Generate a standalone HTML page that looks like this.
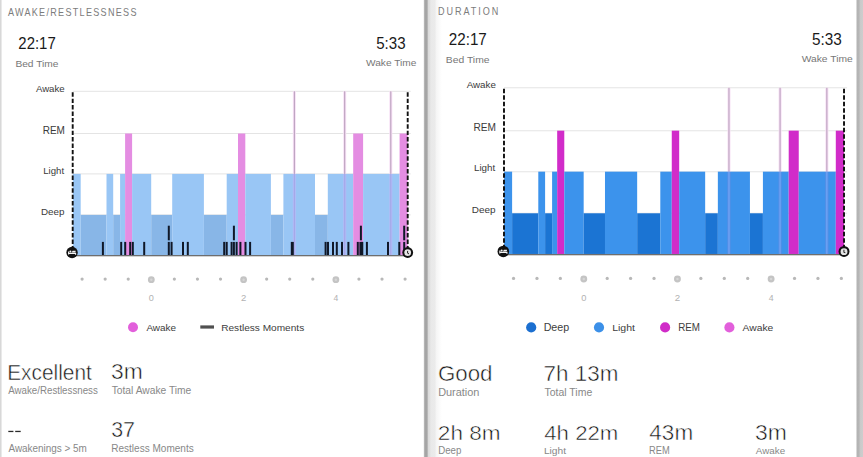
<!DOCTYPE html>
<html><head><meta charset="utf-8"><style>
html,body{margin:0;padding:0;background:#fff;width:863px;height:457px;overflow:hidden;}
svg{position:absolute;left:0;top:0;}
#sep{position:absolute;left:422.5px;top:0;width:19px;height:457px;background:linear-gradient(to right,#fff 0px,#ececec 0.9px,#b4b4b4 1.5px,#a5a5a5 1.9px,#a5a5a5 4.2px,#d6d6d6 5px,#dcdcdc 5.6px,#e0e0e0 7px,#e9e9e9 7.8px,#ebebeb 12px,#f5f5f5 13.2px,#fafafa 16px,#fff 19px);}
#ledge{position:absolute;left:0;top:0;width:2px;height:457px;background:linear-gradient(to right,#d8d8d8 1px,#e9e9e9 1px,#e9e9e9 2px);}
#redge{position:absolute;left:855.8px;top:0;width:7.2px;height:457px;background:linear-gradient(to right,#f4f4f4 0px,#c8c8c8 0.8px,#b4b4b4 1.4px,#b6b6b6 3px,#c9c9c9 4.2px,#cecece 7.2px);}
</style></head><body>
<div id="ledge"></div>
<div id="sep"></div>
<div id="redge"></div>
<svg width="863" height="457" viewBox="0 0 863 457">
<text transform="translate(7.90,15.50) scale(0.86,1)" font-size="10.55" letter-spacing="1.504" fill="#7c7c7c" font-family="Liberation Sans, sans-serif">AWAKE/RESTLESSNESS</text>
<text transform="translate(18.35,48.80) scale(0.9266,1)" font-size="16.14" fill="#1a1a1a" font-family="Liberation Sans, sans-serif">22:17</text>
<text transform="translate(15.38,66.60) scale(1.0945,1)" font-size="9.32" fill="#777" font-family="Liberation Sans, sans-serif">Bed Time</text>
<text transform="translate(376.20,48.90) scale(0.9527,1)" font-size="15.86" fill="#1a1a1a" font-family="Liberation Sans, sans-serif">5:33</text>
<text transform="translate(366.00,66.10) scale(1.1752,1)" font-size="8.63" fill="#777" font-family="Liberation Sans, sans-serif">Wake Time</text>
<text transform="translate(35.90,91.50) scale(1.0525,1)" font-size="9.18" fill="#3a3a3a" font-family="Liberation Sans, sans-serif">Awake</text>
<text transform="translate(42.70,133.60) scale(0.9583,1)" font-size="10.43" fill="#3a3a3a" font-family="Liberation Sans, sans-serif">REM</text>
<text transform="translate(43.13,173.50) scale(1.0224,1)" font-size="9.45" fill="#3a3a3a" font-family="Liberation Sans, sans-serif">Light</text>
<text transform="translate(40.91,214.90) scale(1.0759,1)" font-size="9.13" fill="#3a3a3a" font-family="Liberation Sans, sans-serif">Deep</text>
<line x1="72.7" x2="410.7" y1="91.3" y2="91.3" stroke="#e4e4e4" stroke-width="1"/>
<line x1="72.7" x2="410.7" y1="133.5" y2="133.5" stroke="#e4e4e4" stroke-width="1"/>
<line x1="72.7" x2="410.7" y1="173.9" y2="173.9" stroke="#e4e4e4" stroke-width="1"/>
<line x1="72.7" x2="410.7" y1="214.9" y2="214.9" stroke="#e4e4e4" stroke-width="1"/>
<rect x="72.8" y="173.9" width="7.90" height="81.10" fill="#99c6f5"/>
<rect x="80.7" y="214.9" width="25.80" height="40.10" fill="#88b6e7"/>
<rect x="106.5" y="173.9" width="6.70" height="81.10" fill="#99c6f5"/>
<rect x="113.2" y="214.9" width="6.90" height="40.10" fill="#88b6e7"/>
<rect x="120.1" y="173.9" width="5.00" height="81.10" fill="#99c6f5"/>
<rect x="125.1" y="133.5" width="7.00" height="121.50" fill="#e48de2"/>
<rect x="132.1" y="173.9" width="19.10" height="81.10" fill="#99c6f5"/>
<rect x="151.2" y="214.9" width="21.00" height="40.10" fill="#88b6e7"/>
<rect x="172.2" y="173.9" width="31.70" height="81.10" fill="#99c6f5"/>
<rect x="203.9" y="214.9" width="22.80" height="40.10" fill="#88b6e7"/>
<rect x="226.7" y="173.9" width="11.30" height="81.10" fill="#99c6f5"/>
<rect x="238" y="133.5" width="7.30" height="121.50" fill="#e48de2"/>
<rect x="245.3" y="173.9" width="25.60" height="81.10" fill="#99c6f5"/>
<rect x="270.9" y="214.9" width="12.50" height="40.10" fill="#88b6e7"/>
<rect x="283.4" y="173.9" width="31.60" height="81.10" fill="#99c6f5"/>
<rect x="315" y="214.9" width="12.80" height="40.10" fill="#88b6e7"/>
<rect x="327.8" y="173.9" width="25.40" height="81.10" fill="#99c6f5"/>
<rect x="353.2" y="133.5" width="9.90" height="121.50" fill="#e48de2"/>
<rect x="363.1" y="173.9" width="36.50" height="81.10" fill="#99c6f5"/>
<rect x="399.6" y="133.5" width="8.10" height="121.50" fill="#e48de2"/>
<rect x="292.85" y="91.3" width="3" height="82.60" fill="#f7e0f5"/>
<rect x="292.85" y="173.9" width="3" height="81.10" fill="#b2baf6"/>
<rect x="293.85" y="91.3" width="1" height="82.60" fill="#b69cba"/>
<rect x="293.85" y="173.9" width="1" height="81.10" fill="#a2a6e6"/>
<rect x="343.2" y="91.3" width="3" height="82.60" fill="#f7e0f5"/>
<rect x="343.2" y="173.9" width="3" height="81.10" fill="#b2baf6"/>
<rect x="344.2" y="91.3" width="1" height="82.60" fill="#b69cba"/>
<rect x="344.2" y="173.9" width="1" height="81.10" fill="#a2a6e6"/>
<rect x="389.3" y="91.3" width="3" height="82.60" fill="#f7e0f5"/>
<rect x="389.3" y="173.9" width="3" height="81.10" fill="#b2baf6"/>
<rect x="390.3" y="91.3" width="1" height="82.60" fill="#b69cba"/>
<rect x="390.3" y="173.9" width="1" height="81.10" fill="#a2a6e6"/>
<rect x="101.9" y="241.9" width="2" height="13.10" fill="#101828"/>
<rect x="120.2" y="241.9" width="2" height="13.10" fill="#101828"/>
<rect x="124.2" y="241.9" width="2" height="13.10" fill="#101828"/>
<rect x="129.2" y="241.9" width="2" height="13.10" fill="#101828"/>
<rect x="131.8" y="241.9" width="2" height="13.10" fill="#101828"/>
<rect x="143.2" y="241.9" width="2" height="13.10" fill="#101828"/>
<rect x="167.8" y="241.9" width="2" height="13.10" fill="#101828"/>
<rect x="167.8" y="225.7" width="2" height="14.6" fill="#101828"/>
<rect x="170.6" y="241.9" width="2" height="13.10" fill="#101828"/>
<rect x="182.0" y="241.9" width="2" height="13.10" fill="#101828"/>
<rect x="186.8" y="241.9" width="2" height="13.10" fill="#101828"/>
<rect x="223.2" y="241.9" width="2" height="13.10" fill="#101828"/>
<rect x="225.7" y="241.9" width="2" height="13.10" fill="#101828"/>
<rect x="230.6" y="241.9" width="2" height="13.10" fill="#101828"/>
<rect x="232.9" y="241.9" width="2" height="13.10" fill="#101828"/>
<rect x="232.9" y="225.7" width="2" height="14.6" fill="#101828"/>
<rect x="235.6" y="241.9" width="2" height="13.10" fill="#101828"/>
<rect x="239.4" y="241.9" width="2" height="13.10" fill="#101828"/>
<rect x="244.5" y="241.9" width="2" height="13.10" fill="#101828"/>
<rect x="249.1" y="241.9" width="2" height="13.10" fill="#101828"/>
<rect x="290.8" y="241.9" width="3" height="13.10" fill="#101828"/>
<rect x="324.6" y="241.9" width="2" height="13.10" fill="#101828"/>
<rect x="327.0" y="241.9" width="2" height="13.10" fill="#101828"/>
<rect x="332.0" y="241.9" width="2" height="13.10" fill="#101828"/>
<rect x="335.8" y="241.9" width="2" height="13.10" fill="#101828"/>
<rect x="341.0" y="241.9" width="2" height="13.10" fill="#101828"/>
<rect x="347.4" y="241.9" width="2" height="13.10" fill="#101828"/>
<rect x="356.8" y="241.9" width="2" height="13.10" fill="#101828"/>
<rect x="359.4" y="241.9" width="3" height="13.10" fill="#101828"/>
<rect x="359.9" y="225.7" width="2" height="14.6" fill="#101828"/>
<rect x="361.3" y="241.9" width="2" height="13.10" fill="#101828"/>
<rect x="365.9" y="241.9" width="2" height="13.10" fill="#101828"/>
<rect x="387.0" y="241.9" width="2" height="13.10" fill="#101828"/>
<rect x="398.3" y="241.9" width="2" height="13.10" fill="#101828"/>
<rect x="403.2" y="241.9" width="2" height="13.10" fill="#101828"/>
<rect x="403.2" y="225.7" width="2" height="14.6" fill="#101828"/>
<rect x="72.7" y="255.0" width="335.00" height="1.3" fill="#6e6e6e"/>
<line x1="72.7" x2="72.7" y1="92.3" y2="255.0" stroke="#111" stroke-width="1.9" stroke-dasharray="4.4 2.0"/>
<line x1="407.7" x2="407.7" y1="92.3" y2="255.0" stroke="#111" stroke-width="1.9" stroke-dasharray="4.4 2.0"/>
<circle cx="72.05" cy="252.5" r="5.7" fill="#111"/>
<path d="M68.6 254.6 L68.6 251.6 M68.6 253.4 L75.6 253.4 L75.6 254.8" stroke="#f4f4f4" stroke-width="1.1" fill="none"/>
<circle cx="70.4" cy="251.6" r="1.0" fill="#f4f4f4"/>
<path d="M71.6 252.6 L74.6 252.6 Q75.6 252.6 75.6 251.4 L75.6 250.8 L72.6 250.8 Z" fill="#f0f0f0"/>
<circle cx="407.7" cy="252.5" r="5.4" fill="#111"/>
<circle cx="407.7" cy="252.7" r="3.4" fill="#e6e6e6"/>
<path d="M407.6 250.9 L407.6 253.2 L409.0 253.9" stroke="#222" stroke-width="1.0" fill="none"/>
<circle cx="82.10" cy="279.1" r="1.6" fill="#b8b8b8"/>
<circle cx="105.17" cy="279.1" r="1.6" fill="#b8b8b8"/>
<circle cx="128.24" cy="279.1" r="1.6" fill="#b8b8b8"/>
<circle cx="151.31" cy="279.7" r="3.4" fill="#c4c4c4"/>
<circle cx="151.31" cy="279.7" r="1.2" fill="#d6d6d6"/>
<circle cx="174.38" cy="279.1" r="1.6" fill="#b8b8b8"/>
<circle cx="197.45" cy="279.1" r="1.6" fill="#b8b8b8"/>
<circle cx="220.52" cy="279.1" r="1.6" fill="#b8b8b8"/>
<circle cx="243.59" cy="279.7" r="3.4" fill="#c4c4c4"/>
<circle cx="243.59" cy="279.7" r="1.2" fill="#d6d6d6"/>
<circle cx="266.66" cy="279.1" r="1.6" fill="#b8b8b8"/>
<circle cx="289.73" cy="279.1" r="1.6" fill="#b8b8b8"/>
<circle cx="312.80" cy="279.1" r="1.6" fill="#b8b8b8"/>
<circle cx="335.87" cy="279.7" r="3.4" fill="#c4c4c4"/>
<circle cx="335.87" cy="279.7" r="1.2" fill="#d6d6d6"/>
<circle cx="358.94" cy="279.1" r="1.6" fill="#b8b8b8"/>
<circle cx="382.01" cy="279.1" r="1.6" fill="#b8b8b8"/>
<circle cx="405.08" cy="279.1" r="1.6" fill="#b8b8b8"/>
<text transform="translate(148.74,301.00) scale(0.9872,1)" font-size="9.29" fill="#b2b2b2" font-family="Liberation Sans, sans-serif">0</text>
<text transform="translate(240.91,301.00) scale(1.0301,1)" font-size="9.29" fill="#b2b2b2" font-family="Liberation Sans, sans-serif">2</text>
<text transform="translate(333.50,301.00) scale(0.9158,1)" font-size="9.42" fill="#b2b2b2" font-family="Liberation Sans, sans-serif">4</text>
<circle cx="133" cy="327.3" r="5" fill="#e25fdb"/>
<text transform="translate(146.40,331.20) scale(1.0139,1)" font-size="9.86" fill="#3d3d3d" font-family="Liberation Sans, sans-serif">Awake</text>
<rect x="200.3" y="325.4" width="13.7" height="3.2" fill="#505050"/>
<text transform="translate(221.19,331.20) scale(1.0251,1)" font-size="9.86" fill="#3d3d3d" font-family="Liberation Sans, sans-serif">Restless Moments</text>
<text transform="translate(7.13,379.50) scale(0.9421,1)" font-size="22.19" fill="#151515" stroke="#fff" stroke-width="0.5" font-family="Liberation Sans, sans-serif">Excellent</text>
<text transform="translate(8.20,394.20) scale(0.9009,1)" font-size="10.82" fill="#888" font-family="Liberation Sans, sans-serif">Awake/Restlessness</text>
<text transform="translate(111.08,379.40) scale(1.0338,1)" font-size="22.14" fill="#151515" stroke="#fff" stroke-width="0.5" font-family="Liberation Sans, sans-serif">3m</text>
<text transform="translate(111.69,394.20) scale(0.9493,1)" font-size="10.82" fill="#888" font-family="Liberation Sans, sans-serif">Total Awake Time</text>
<rect x="8.3" y="430.8" width="5.1" height="1.3" fill="#2a2a2a"/><rect x="15.2" y="430.8" width="5.5" height="1.3" fill="#2a2a2a"/>
<text transform="translate(111.14,436.90) scale(0.9696,1)" font-size="22.14" fill="#151515" stroke="#fff" stroke-width="0.5" font-family="Liberation Sans, sans-serif">37</text>
<text transform="translate(8.50,451.80) scale(0.9544,1)" font-size="10.41" fill="#888" font-family="Liberation Sans, sans-serif">Awakenings &gt; 5m</text>
<text transform="translate(111.20,451.80) scale(0.9641,1)" font-size="10.41" fill="#888" font-family="Liberation Sans, sans-serif">Restless Moments</text>
<text transform="translate(437.97,14.70) scale(0.86,1)" font-size="10.57" letter-spacing="2.281" fill="#7c7c7c" font-family="Liberation Sans, sans-serif">DURATION</text>
<g transform="translate(430.2,-4.85) scale(1.015)">
<text transform="translate(18.35,48.80) scale(0.9266,1)" font-size="16.14" fill="#1a1a1a" font-family="Liberation Sans, sans-serif">22:17</text>
<text transform="translate(15.38,66.60) scale(1.0945,1)" font-size="9.32" fill="#777" font-family="Liberation Sans, sans-serif">Bed Time</text>
<text transform="translate(376.20,48.90) scale(0.9527,1)" font-size="15.86" fill="#1a1a1a" font-family="Liberation Sans, sans-serif">5:33</text>
<text transform="translate(366.00,66.10) scale(1.1752,1)" font-size="8.63" fill="#777" font-family="Liberation Sans, sans-serif">Wake Time</text>
<text transform="translate(35.90,91.50) scale(1.0525,1)" font-size="9.18" fill="#3a3a3a" font-family="Liberation Sans, sans-serif">Awake</text>
<text transform="translate(42.70,133.60) scale(0.9583,1)" font-size="10.43" fill="#3a3a3a" font-family="Liberation Sans, sans-serif">REM</text>
<text transform="translate(43.13,173.50) scale(1.0224,1)" font-size="9.45" fill="#3a3a3a" font-family="Liberation Sans, sans-serif">Light</text>
<text transform="translate(40.91,214.90) scale(1.0759,1)" font-size="9.13" fill="#3a3a3a" font-family="Liberation Sans, sans-serif">Deep</text>
<line x1="72.7" x2="410.7" y1="91.3" y2="91.3" stroke="#e4e4e4" stroke-width="1"/>
<line x1="72.7" x2="410.7" y1="133.5" y2="133.5" stroke="#e4e4e4" stroke-width="1"/>
<line x1="72.7" x2="410.7" y1="173.9" y2="173.9" stroke="#e4e4e4" stroke-width="1"/>
<line x1="72.7" x2="410.7" y1="214.9" y2="214.9" stroke="#e4e4e4" stroke-width="1"/>
<rect x="72.8" y="173.9" width="7.90" height="81.10" fill="#3c93ec"/>
<rect x="80.7" y="214.9" width="25.80" height="40.10" fill="#1b74d3"/>
<rect x="106.5" y="173.9" width="6.70" height="81.10" fill="#3c93ec"/>
<rect x="113.2" y="214.9" width="6.90" height="40.10" fill="#1b74d3"/>
<rect x="120.1" y="173.9" width="5.00" height="81.10" fill="#3c93ec"/>
<rect x="125.1" y="133.5" width="7.00" height="121.50" fill="#d12cc9"/>
<rect x="132.1" y="173.9" width="19.10" height="81.10" fill="#3c93ec"/>
<rect x="151.2" y="214.9" width="21.00" height="40.10" fill="#1b74d3"/>
<rect x="172.2" y="173.9" width="31.70" height="81.10" fill="#3c93ec"/>
<rect x="203.9" y="214.9" width="22.80" height="40.10" fill="#1b74d3"/>
<rect x="226.7" y="173.9" width="11.30" height="81.10" fill="#3c93ec"/>
<rect x="238" y="133.5" width="7.30" height="121.50" fill="#d12cc9"/>
<rect x="245.3" y="173.9" width="25.60" height="81.10" fill="#3c93ec"/>
<rect x="270.9" y="214.9" width="12.50" height="40.10" fill="#1b74d3"/>
<rect x="283.4" y="173.9" width="31.60" height="81.10" fill="#3c93ec"/>
<rect x="315" y="214.9" width="12.80" height="40.10" fill="#1b74d3"/>
<rect x="327.8" y="173.9" width="25.40" height="81.10" fill="#3c93ec"/>
<rect x="353.2" y="133.5" width="9.90" height="121.50" fill="#d12cc9"/>
<rect x="363.1" y="173.9" width="36.50" height="81.10" fill="#3c93ec"/>
<rect x="399.6" y="133.5" width="8.10" height="121.50" fill="#d12cc9"/>
<rect x="292.85" y="91.3" width="3" height="82.60" fill="#f7e0f5"/>
<rect x="292.85" y="173.9" width="3" height="81.10" fill="#5c8ee4"/>
<rect x="293.85" y="91.3" width="1" height="82.60" fill="#b69cba"/>
<rect x="293.85" y="173.9" width="1" height="81.10" fill="#72aafa"/>
<rect x="343.2" y="91.3" width="3" height="82.60" fill="#f7e0f5"/>
<rect x="343.2" y="173.9" width="3" height="81.10" fill="#5c8ee4"/>
<rect x="344.2" y="91.3" width="1" height="82.60" fill="#b69cba"/>
<rect x="344.2" y="173.9" width="1" height="81.10" fill="#72aafa"/>
<rect x="389.3" y="91.3" width="3" height="82.60" fill="#f7e0f5"/>
<rect x="389.3" y="173.9" width="3" height="81.10" fill="#5c8ee4"/>
<rect x="390.3" y="91.3" width="1" height="82.60" fill="#b69cba"/>
<rect x="390.3" y="173.9" width="1" height="81.10" fill="#72aafa"/>
<rect x="72.7" y="255.0" width="335.00" height="1.3" fill="#6e6e6e"/>
<line x1="72.7" x2="72.7" y1="92.3" y2="255.0" stroke="#111" stroke-width="1.9" stroke-dasharray="4.4 2.0"/>
<line x1="407.7" x2="407.7" y1="92.3" y2="255.0" stroke="#111" stroke-width="1.9" stroke-dasharray="4.4 2.0"/>
<circle cx="72.05" cy="252.5" r="5.7" fill="#111"/>
<path d="M68.6 254.6 L68.6 251.6 M68.6 253.4 L75.6 253.4 L75.6 254.8" stroke="#f4f4f4" stroke-width="1.1" fill="none"/>
<circle cx="70.4" cy="251.6" r="1.0" fill="#f4f4f4"/>
<path d="M71.6 252.6 L74.6 252.6 Q75.6 252.6 75.6 251.4 L75.6 250.8 L72.6 250.8 Z" fill="#f0f0f0"/>
<circle cx="407.7" cy="252.5" r="5.4" fill="#111"/>
<circle cx="407.7" cy="252.7" r="3.4" fill="#e6e6e6"/>
<path d="M407.6 250.9 L407.6 253.2 L409.0 253.9" stroke="#222" stroke-width="1.0" fill="none"/>
<circle cx="82.10" cy="279.1" r="1.6" fill="#b8b8b8"/>
<circle cx="105.17" cy="279.1" r="1.6" fill="#b8b8b8"/>
<circle cx="128.24" cy="279.1" r="1.6" fill="#b8b8b8"/>
<circle cx="151.31" cy="279.7" r="3.4" fill="#c4c4c4"/>
<circle cx="151.31" cy="279.7" r="1.2" fill="#d6d6d6"/>
<circle cx="174.38" cy="279.1" r="1.6" fill="#b8b8b8"/>
<circle cx="197.45" cy="279.1" r="1.6" fill="#b8b8b8"/>
<circle cx="220.52" cy="279.1" r="1.6" fill="#b8b8b8"/>
<circle cx="243.59" cy="279.7" r="3.4" fill="#c4c4c4"/>
<circle cx="243.59" cy="279.7" r="1.2" fill="#d6d6d6"/>
<circle cx="266.66" cy="279.1" r="1.6" fill="#b8b8b8"/>
<circle cx="289.73" cy="279.1" r="1.6" fill="#b8b8b8"/>
<circle cx="312.80" cy="279.1" r="1.6" fill="#b8b8b8"/>
<circle cx="335.87" cy="279.7" r="3.4" fill="#c4c4c4"/>
<circle cx="335.87" cy="279.7" r="1.2" fill="#d6d6d6"/>
<circle cx="358.94" cy="279.1" r="1.6" fill="#b8b8b8"/>
<circle cx="382.01" cy="279.1" r="1.6" fill="#b8b8b8"/>
<circle cx="405.08" cy="279.1" r="1.6" fill="#b8b8b8"/>
<text transform="translate(148.74,301.00) scale(0.9872,1)" font-size="9.29" fill="#b2b2b2" font-family="Liberation Sans, sans-serif">0</text>
<text transform="translate(240.91,301.00) scale(1.0301,1)" font-size="9.29" fill="#b2b2b2" font-family="Liberation Sans, sans-serif">2</text>
<text transform="translate(333.50,301.00) scale(0.9158,1)" font-size="9.42" fill="#b2b2b2" font-family="Liberation Sans, sans-serif">4</text>
<circle cx="99.51" cy="327.34" r="5" fill="#1b6fd0"/>
<text transform="translate(111.77,331.28) scale(1.0259,1)" font-size="10.28" fill="#3d3d3d" font-family="Liberation Sans, sans-serif">Deep</text>
<circle cx="166.31" cy="327.34" r="5" fill="#3c90e8"/>
<text transform="translate(179.27,331.28) scale(1.0675,1)" font-size="9.72" fill="#3d3d3d" font-family="Liberation Sans, sans-serif">Light</text>
<circle cx="231.43" cy="327.34" r="5" fill="#d02bc8"/>
<text transform="translate(244.35,331.28) scale(0.9397,1)" font-size="10.28" fill="#3d3d3d" font-family="Liberation Sans, sans-serif">REM</text>
<circle cx="294.78" cy="327.34" r="5" fill="#e25fdb"/>
<text transform="translate(307.78,331.28) scale(1.0449,1)" font-size="9.72" fill="#3d3d3d" font-family="Liberation Sans, sans-serif">Awake</text>
<text transform="translate(7.57,379.95) scale(1.0119,1)" font-size="21.73" fill="#151515" stroke="#fff" stroke-width="0.5" font-family="Liberation Sans, sans-serif">Good</text>
<text transform="translate(7.81,394.83) scale(0.9619,1)" font-size="11.20" fill="#888" font-family="Liberation Sans, sans-serif">Duration</text>
<text transform="translate(111.70,379.95) scale(1.0181,1)" font-size="21.73" fill="#151515" stroke="#fff" stroke-width="0.5" font-family="Liberation Sans, sans-serif">7h 13m</text>
<text transform="translate(112.60,394.83) scale(0.9226,1)" font-size="11.20" fill="#888" font-family="Liberation Sans, sans-serif">Total Time</text>
<text transform="translate(7.56,438.08) scale(1.0996,1)" font-size="20.24" fill="#151515" stroke="#fff" stroke-width="0.5" font-family="Liberation Sans, sans-serif">2h 8m</text>
<text transform="translate(7.91,451.67) scale(0.9419,1)" font-size="10.14" fill="#888" font-family="Liberation Sans, sans-serif">Deep</text>
<text transform="translate(112.37,438.08) scale(1.0826,1)" font-size="20.24" fill="#151515" stroke="#fff" stroke-width="0.5" font-family="Liberation Sans, sans-serif">4h 22m</text>
<text transform="translate(112.00,451.67) scale(1.0529,1)" font-size="9.58" fill="#888" font-family="Liberation Sans, sans-serif">Light</text>
<text transform="translate(215.91,438.08) scale(1.0513,1)" font-size="21.11" fill="#151515" stroke="#fff" stroke-width="0.5" font-family="Liberation Sans, sans-serif">43m</text>
<text transform="translate(215.62,451.67) scale(0.9058,1)" font-size="10.14" fill="#888" font-family="Liberation Sans, sans-serif">REM</text>
<text transform="translate(319.88,438.08) scale(1.0719,1)" font-size="21.11" fill="#151515" stroke="#fff" stroke-width="0.5" font-family="Liberation Sans, sans-serif">3m</text>
<text transform="translate(320.79,451.67) scale(1.0107,1)" font-size="9.58" fill="#888" font-family="Liberation Sans, sans-serif">Awake</text>
</g>
</svg>
</body></html>
